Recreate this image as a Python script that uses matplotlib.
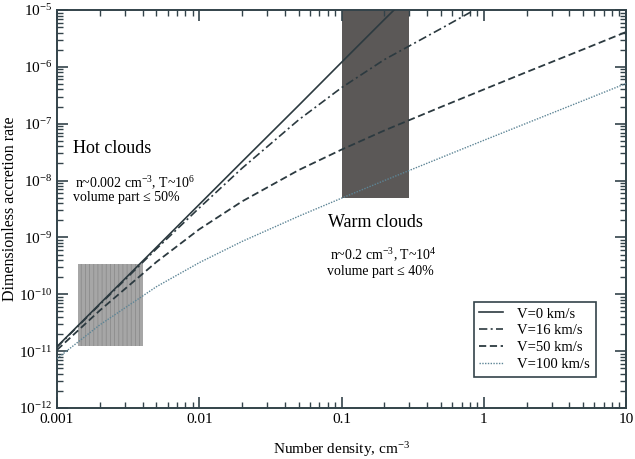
import numpy as np
import matplotlib
matplotlib.use("Agg")
import matplotlib.pyplot as plt
from matplotlib.ticker import LogLocator, NullFormatter, FixedFormatter, FixedLocator

plt.rcParams['font.family'] = ['Liberation Serif', 'DejaVu Serif']
plt.rcParams['mathtext.fontset'] = 'custom'
plt.rcParams['mathtext.rm'] = 'Liberation Serif'
plt.rcParams['mathtext.it'] = 'Liberation Serif:italic'
plt.rcParams['hatch.linewidth'] = 0.6

#accretion rate curves, one per cloud speed
n_v0 = [0.001, 0.002, 0.005, 0.01, 0.02, 0.05, 0.1, 0.2, 0.234]
rate_v0 = [1.2e-11, 6.8e-11, 6.7e-10, 3.8e-9, 2.15e-8, 2.1e-7, 1.2e-6, 6.8e-6, 1.0e-5]

n_v16 = [0.001, 0.002, 0.005, 0.01, 0.02, 0.05, 0.1, 0.2, 0.5, 0.86]
rate_v16 = [1.18e-11, 6.6e-11, 6.3e-10, 3.3e-9, 1.65e-8, 1.17e-7, 4.3e-7, 1.34e-6, 4.7e-6, 1.0e-5]

n_full = [0.001, 0.002, 0.005, 0.01, 0.02, 0.05, 0.1, 0.2, 0.5, 1, 2, 5, 10]
rate_v50 = [1.05e-11, 5.2e-11, 3.7e-10, 1.39e-9, 4.3e-9, 1.53e-8, 3.5e-8, 7.6e-8,
            1.97e-7, 4.0e-7, 8.1e-7, 2.03e-6, 4.1e-6]
rate_v100 = [7.4e-12, 2.9e-11, 1.36e-10, 3.6e-10, 8.5e-10, 2.36e-9, 4.9e-9, 1.0e-8,
             2.53e-8, 5.1e-8, 1.02e-7, 2.55e-7, 5.1e-7]

#shaded regions: density range and rate range for each cloud phase
hot_n = [0.0014, 0.004]
hot_rate = [1.25e-11, 3.4e-10]
warm_n = [0.1, 0.3]
warm_rate = [5e-9, 1e-5]

x_ticks = [0.001, 0.01, 0.1, 1, 10]
x_labels = ["0.001", "0.01", "0.1", "1", "10"]
y_ticks = [1e-12, 1e-11, 1e-10, 1e-9, 1e-8, 1e-7, 1e-6, 1e-5]
y_labels = [r"$10^{%d}$" % p for p in range(-12, -4)]

line_col = "#2c3a40"
ax_col = "#33434a"

fig = plt.figure(figsize=(6.35, 4.59), dpi=100)
ax = fig.add_axes([57/635, 1-408/459, 569/635, 398/459])
ax.set_xscale("log")
ax.set_yscale("log")
ax.set_xlim(0.001, 10)
ax.set_ylim(1e-12, 1e-5)

ax.fill_between(hot_n, hot_rate[0], hot_rate[1], facecolor="#a6a6a6",
                edgecolor="#8c8c8c", hatch="||||", linewidth=0, zorder=1)
ax.fill_between(warm_n, warm_rate[0], warm_rate[1], facecolor="#5b5857",
                edgecolor="none", zorder=1)

ax.plot(n_v0, rate_v0, "-", color=line_col, lw=1.2, label="V=0 km/s", zorder=3)
ax.plot(n_v16, rate_v16, color=line_col, lw=1.2, dashes=(5, 2, 1.2, 2),
        label="V=16 km/s", zorder=3)
ax.plot(n_full, rate_v50, color=line_col, lw=1.3, dashes=(4, 2),
        label="V=50 km/s", zorder=3)
ax.plot(n_full, rate_v100, color="#5d8596", lw=1.0, dashes=(1, 1),
        label="V=100 km/s", zorder=3)

ax.xaxis.set_major_locator(FixedLocator(x_ticks))
ax.xaxis.set_major_formatter(FixedFormatter(x_labels))
ax.yaxis.set_major_locator(FixedLocator(y_ticks))
ax.yaxis.set_major_formatter(FixedFormatter(y_labels))
for axis in (ax.xaxis, ax.yaxis):
    axis.set_minor_locator(LogLocator(base=10, subs=np.arange(2, 10), numticks=20))
    axis.set_minor_formatter(NullFormatter())
ax.tick_params(which="both", direction="in", top=True, right=True, colors=ax_col,
               labelcolor="black", labelsize=11)
ax.tick_params(which="major", length=8, width=1.2)
ax.tick_params(which="minor", length=4, width=1.0)
for s in ax.spines.values():
    s.set_color(ax_col)
    s.set_linewidth(1.4)

ax.set_xlabel(r"Number density, cm$^{-3}$", fontsize=11, labelpad=10)
ax.set_ylabel("Dimensionless accretion rate", fontsize=11.5)
ax.yaxis.set_label_coords(-0.069, 0.5)

ax.text(0.028, 0.653, "Hot clouds", transform=ax.transAxes, fontsize=13, va="center")
ax.text(0.032, 0.565, r"n~0.002 cm$^{-3}$, T~10$^{6}$", transform=ax.transAxes,
        fontsize=10, va="center")
ax.text(0.028, 0.528, "volume part ≤ 50%", transform=ax.transAxes, fontsize=10, va="center")
ax.text(0.476, 0.467, "Warm clouds", transform=ax.transAxes, fontsize=13, va="center")
ax.text(0.48, 0.384, r"n~0.2 cm$^{-3}$, T~10$^{4}$", transform=ax.transAxes,
        fontsize=10, va="center")
ax.text(0.475, 0.342, "volume part ≤ 40%", transform=ax.transAxes, fontsize=10, va="center")

leg = ax.legend(loc="lower right", bbox_to_anchor=(0.947, 0.078), fontsize=10.5,
                fancybox=False, handlelength=1.6, handletextpad=1.0,
                labelspacing=0.25, borderpad=0.4, borderaxespad=0, framealpha=1)
leg.get_frame().set_edgecolor(ax_col)
leg.get_frame().set_linewidth(1.2)

fig.savefig("out.png", dpi=100)
